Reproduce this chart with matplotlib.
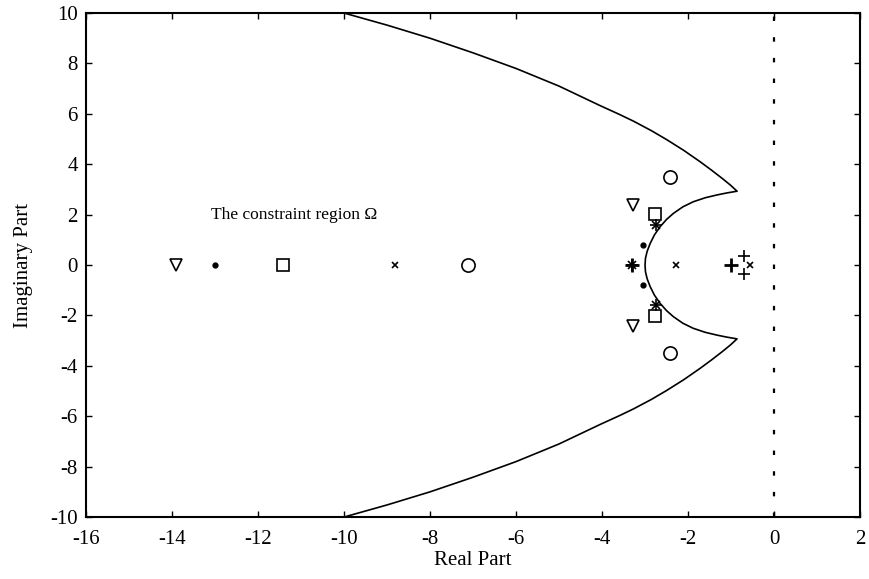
import numpy as np
import matplotlib.pyplot as plt

plt.rcParams['font.family'] = ['Liberation Serif', 'DejaVu Serif']
plt.rcParams['axes.unicode_minus'] = False

# boundary of the constraint region, upper half (mirrored below the real axis)
outer_x = [-10.0, -9.0, -8.0, -7.0, -6.0, -5.0, -4.05, -3.6, -3.27, -2.85, -2.5,
           -2.1, -1.72, -1.45, -1.2, -1.02, -0.86]
outer_y = [10.0, 9.52, 9.0, 8.42, 7.8, 7.1, 6.33, 5.98, 5.71, 5.33, 4.98,
           4.55, 4.1, 3.76, 3.43, 3.18, 2.93]
inner_x = [-0.86, -1.1, -1.33, -1.6, -1.88, -2.12, -2.34, -2.5, -2.65, -2.78,
           -2.88, -2.95, -2.99, -3.0]
inner_y = [2.93, 2.86, 2.78, 2.67, 2.51, 2.31, 2.05, 1.81, 1.52, 1.2,
           0.86, 0.55, 0.27, 0.0]

# closed-loop poles for the different designs
tri_x = [-13.9, -3.27, -3.27]
tri_y = [0.0, 2.40, -2.40]
dot_x = [-13.0, -3.04, -3.04]
dot_y = [0.0, 0.79, -0.79]
sq_x = [-11.43, -2.78, -2.78]
sq_y = [0.0, 2.02, -2.02]
x_x = [-8.82, -2.29, -0.57]
x_y = [0.0, 0.0, 0.0]
circ_x = [-7.12, -2.41, -2.41]
circ_y = [0.0, 3.50, -3.50]
star_x = [-3.30, -2.74, -2.74]
star_y = [0.0, 1.60, -1.60]
plus_x = [-3.30, -1.01, -0.71, -0.71]
plus_y = [0.0, 0.0, 0.35, -0.35]

fig = plt.figure(figsize=(8.69, 5.79), dpi=100)
ax = fig.add_axes([0.099, 0.107, 0.8907, 0.8705])

bx = outer_x + inner_x[1:] + inner_x[::-1][1:] + outer_x[::-1][1:]
by = (outer_y + inner_y[1:] + [-v for v in inner_y[::-1][1:]]
      + [-v for v in outer_y[::-1][1:]])
ax.plot(bx, by, color='black', lw=1.2, solid_joinstyle='round')

ax.axvline(0, color='black', lw=1.6, dashes=(2, 7.3))

kw = dict(linestyle='none', color='black', markerfacecolor='none')
ax.plot(tri_x, tri_y, marker='v', markersize=9, mew=1.2, **kw)
ax.plot(dot_x, dot_y, marker='o', markersize=3.5, linestyle='none', color='black')
ax.plot(sq_x, sq_y, marker='s', markersize=8, mew=1.2, **kw)
ax.plot(x_x, x_y, marker='x', markersize=5, mew=1.2, **kw)
ax.plot(circ_x, circ_y, marker='o', markersize=9.5, mew=1.2, **kw)
# asterisk = plus and cross drawn on top of each other
ax.plot(star_x, star_y, marker='+', markersize=8, mew=1.2, **kw)
ax.plot(star_x, star_y, marker='x', markersize=6, mew=1.2, **kw)
ax.plot(plus_x[:2], plus_y[:2], marker='+', markersize=10, mew=2.0, **kw)
ax.plot(plus_x[2:], plus_y[2:], marker='+', markersize=9, mew=1.2, **kw)

ax.text(-13.1, 2.0, 'The constraint region Ω', fontsize=12.5, va='center', ha='left')

ax.set_xlim(-16, 2)
ax.set_ylim(-10, 10)
ax.set_xticks(np.arange(-16, 3, 2))
ax.set_yticks(np.arange(-10, 11, 2))
ax.tick_params(direction='in', top=True, right=True, length=4.5, width=1,
               labelsize=15)
ax.tick_params(axis='x', pad=9)
ax.tick_params(axis='y', pad=6)
for s in ax.spines.values():
    s.set_linewidth(1.5)

ax.set_xlabel('Real Part', fontsize=15, labelpad=2)
ax.set_ylabel('Imaginary Part', fontsize=15, labelpad=12)

fig.savefig('out.png', dpi=100)
